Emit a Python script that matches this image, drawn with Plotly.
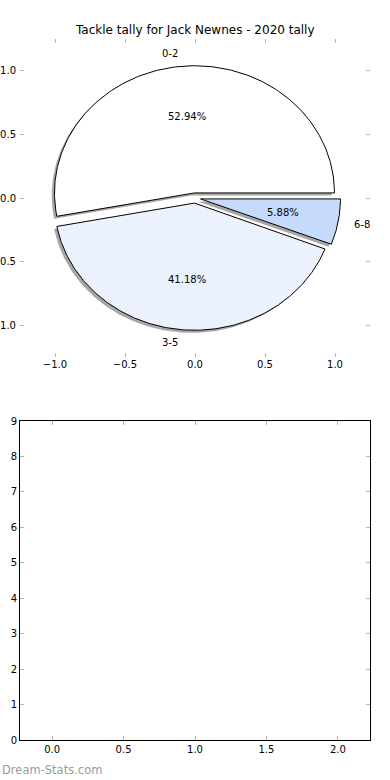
import numpy as np
import plotly.graph_objects as go

# ---- data ----
categories = ["0-2", "3-5", "6-8"]
tackle_counts = [9, 7, 1]
slice_colors = ["#ffffff", "#ebf1fd", "#c6dafc"]
explode = [0.04, 0.04, 0.04]
pie_ticks = [-1.0, -0.5, 0.0, 0.5, 1.0]
bottom_xticks = [0.0, 0.5, 1.0, 1.5, 2.0]
bottom_yticks = list(range(0, 10))
title_text = "Tackle tally for Jack Newnes - 2020 tally"

W, H = 390, 780
FONT = "DejaVu Sans"
TICKCOL = "#b5b5b5"

fig = go.Figure()

vals = np.array(tackle_counts, dtype=float)
fracs = vals / vals.sum()
starts = np.concatenate([[0.0], np.cumsum(fracs)[:-1]]) * 360.0
ends = np.cumsum(fracs) * 360.0

wedges = []
for i in range(len(vals)):
    t1, t2 = np.radians(starts[i]), np.radians(ends[i])
    mid = (t1 + t2) / 2
    cx, cy = explode[i] * np.cos(mid), explode[i] * np.sin(mid)
    t = np.linspace(t1, t2, 200)
    xs = np.concatenate([[cx], cx + np.cos(t), [cx]])
    ys = np.concatenate([[cy], cy + np.sin(t), [cy]])
    wedges.append((xs, ys, cx, cy, mid))

# shadows first
for xs, ys, cx, cy, mid in wedges:
    fig.add_trace(go.Scatter(x=xs - 0.02, y=ys - 0.02, mode="lines", fill="toself",
                             fillcolor="rgba(80,80,80,0.5)", line=dict(width=0),
                             hoverinfo="skip", showlegend=False, xaxis="x", yaxis="y"))
for i, (xs, ys, cx, cy, mid) in enumerate(wedges):
    fig.add_trace(go.Scatter(x=xs, y=ys, mode="lines", fill="toself",
                             fillcolor=slice_colors[i], line=dict(color="black", width=1),
                             hoverinfo="skip", showlegend=False, xaxis="x", yaxis="y"))

annotations = []
for i, (xs, ys, cx, cy, mid) in enumerate(wedges):
    lx, ly = cx + 1.1 * np.cos(mid), cy + 1.1 * np.sin(mid)
    annotations.append(dict(x=lx, y=ly, xref="x", yref="y", text=categories[i], showarrow=False,
                            xanchor="left" if lx > 0 else "right", yanchor="middle",
                            font=dict(family=FONT, size=10, color="black")))
    px, py = cx + 0.6 * np.cos(mid), cy + 0.6 * np.sin(mid)
    annotations.append(dict(x=px, y=py, xref="x", yref="y", text=f"{fracs[i]*100:.2f}%",
                            showarrow=False, xanchor="center", yanchor="middle",
                            font=dict(family=FONT, size=10, color="black")))

annotations.append(dict(x=0.5, y=1 - 30 / H, xref="paper", yref="paper", text=title_text,
                        showarrow=False, xanchor="center", yanchor="middle",
                        font=dict(family=FONT, size=12, color="black")))
annotations.append(dict(x=0, y=1 - 770 / H, xref="paper", yref="paper", text="Dream-Stats.com",
                        showarrow=False, xanchor="left", yanchor="middle",
                        font=dict(family=FONT, size=11.5, color="#9a9a9a")))

# empty bottom axes trace
fig.add_trace(go.Scatter(x=[], y=[], mode="markers", showlegend=False, xaxis="x2", yaxis="y2"))

xdom = [20 / W, 370 / W]
common_tick = dict(ticks="inside", ticklen=4, tickwidth=1, tickcolor=TICKCOL,
                   tickfont=dict(family=FONT, size=10, color="black"),
                   showgrid=False, zeroline=False, automargin=False, fixedrange=True)

fig.update_layout(
    width=W, height=H,
    margin=dict(l=0, r=0, t=0, b=0),
    paper_bgcolor="white", plot_bgcolor="white",
    showlegend=False,
    annotations=annotations,
    xaxis=dict(domain=xdom, range=[-1.25, 1.25], tickvals=pie_ticks, anchor="y",
               tickformat=".1f", showline=False, mirror="ticks", **common_tick),
    yaxis=dict(domain=[1 - 357 / H, 1 - 39 / H], range=[-1.25, 1.25], tickvals=pie_ticks,
               tickformat=".1f", anchor="x", showline=False, mirror="ticks",
               ticklabelstandoff=3, **common_tick),
    xaxis2=dict(domain=xdom, range=[-0.225, 2.225], tickvals=bottom_xticks, anchor="y2",
                tickformat=".1f", showline=True, linecolor="black", linewidth=1,
                mirror="ticks", **common_tick),
    yaxis2=dict(domain=[1 - 740 / H, 1 - 421 / H], range=[0, 9], tickvals=bottom_yticks,
                anchor="x2", showline=True, linecolor="black", linewidth=1,
                mirror="ticks", **common_tick),
)

fig.write_html("out.html", config={"displayModeBar": False},
               post_script="document.body.style.margin='0';")
